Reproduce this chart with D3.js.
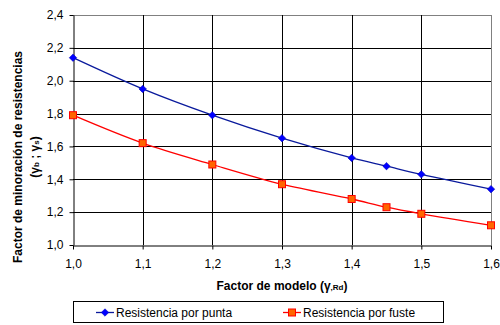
<!DOCTYPE html>
<html>
<head>
<meta charset="utf-8">
<script src="https://cdn.jsdelivr.net/npm/d3@7"></script>
<style>
  html, body { margin: 0; padding: 0; background: #fff; }
  svg { display: block; font-family: Arial, "Liberation Sans", sans-serif; }
</style>
</head>
<body>
<svg id="chart" width="500" height="325"></svg>
<script>
// Model factor (x) and the resulting resistance reduction factors
const modelFactor = [1.0, 1.1, 1.2, 1.3, 1.4, 1.45, 1.5, 1.6];
const puntaValues = [2.14, 1.95, 1.79, 1.65, 1.53, 1.48, 1.43, 1.34];
const fusteValues = [1.79, 1.62, 1.49, 1.37, 1.28, 1.23, 1.19, 1.12];
const xTicks = [1.0, 1.1, 1.2, 1.3, 1.4, 1.5, 1.6];
const yTicks = [1.0, 1.2, 1.4, 1.6, 1.8, 2.0, 2.2, 2.4];
const seriesNames = ["Resistencia por punta", "Resistencia por fuste"];

const svg = d3.select("#chart");
const plot = { left: 73, right: 491, top: 15, bottom: 245 };

const x = d3.scaleLinear().domain([1.0, 1.6]).range([plot.left, plot.right]);
const y = d3.scaleLinear().domain([1.0, 2.4]).range([plot.bottom, plot.top]);
const fmt = d => d3.format(".1f")(d).replace(".", ",");

// grid
const grid = svg.append("g");
grid.selectAll("line.h").data(yTicks.slice(1)).join("line")
  .attr("x1", plot.left).attr("x2", plot.right)
  .attr("y1", d => Math.round(y(d)) + 0.5).attr("y2", d => Math.round(y(d)) + 0.5)
  .attr("stroke", d => d === 2.4 ? "#808080" : "#000").attr("stroke-width", 1);
grid.selectAll("line.v").data(xTicks.slice(1)).join("line")
  .attr("y1", plot.top).attr("y2", plot.bottom)
  .attr("x1", d => Math.round(x(d)) + 0.5).attr("x2", d => Math.round(x(d)) + 0.5)
  .attr("stroke", d => d === 1.6 ? "#808080" : "#000").attr("stroke-width", 1);

// axes
const xAxis = svg.append("g")
  .attr("transform", `translate(0,${Math.round(y(1.0)) + 0.5})`)
  .call(d3.axisBottom(x).tickValues(xTicks).tickFormat(fmt).tickSize(4).tickSizeOuter(0));
const yAxis = svg.append("g")
  .attr("transform", `translate(${Math.round(x(1.0)) + 0.5},0)`)
  .call(d3.axisLeft(y).tickValues(yTicks).tickFormat(fmt).tickSize(4).tickSizeOuter(0));
[xAxis, yAxis].forEach(a => {
  a.select(".domain").attr("stroke", "#000");
  a.selectAll(".tick line").attr("stroke", "#000");
  a.selectAll(".tick text").attr("fill", "#000").style("font-size", "12px")
    .style("font-family", "Arial, 'Liberation Sans', sans-serif");
});
xAxis.selectAll(".tick text").attr("dy", "0").attr("y", 22);
yAxis.selectAll(".tick text").attr("x", -10);

// series
const line = d3.line().x(d => x(d[0])).y(d => y(d[1])).curve(d3.curveCatmullRom.alpha(0.5));
const punta = modelFactor.map((m, i) => [m, puntaValues[i]]);
const fuste = modelFactor.map((m, i) => [m, fusteValues[i]]);

svg.append("path").datum(punta).attr("d", line)
  .attr("fill", "none").attr("stroke", "#0a1a9c").attr("stroke-width", 1.3);
svg.append("path").datum(fuste).attr("d", line)
  .attr("fill", "none").attr("stroke", "#ff0000").attr("stroke-width", 1.3);

const diamond = d3.symbol().type(d3.symbolDiamond2).size(36);
svg.append("g").selectAll("path").data(punta).join("path")
  .attr("d", diamond)
  .attr("transform", d => `translate(${x(d[0])},${y(d[1])})`)
  .attr("fill", "#0000ff").attr("stroke", "#0000b0").attr("stroke-width", 0.5);
svg.append("g").selectAll("rect").data(fuste).join("rect")
  .attr("x", d => x(d[0]) - 3.5).attr("y", d => y(d[1]) - 3.5)
  .attr("width", 7).attr("height", 7)
  .attr("fill", "#ff6600").attr("stroke", "#ff0000").attr("stroke-width", 1);

// axis titles
const xTitle = svg.append("text")
  .attr("x", 282).attr("y", 290).attr("text-anchor", "middle")
  .style("font-size", "12px").style("font-weight", "bold");
xTitle.append("tspan").text("Factor de modelo (γ");
xTitle.append("tspan").text(",Rd").style("font-size", "8px");
xTitle.append("tspan").text(")");

const yTitle = svg.append("text")
  .attr("transform", "translate(22,157) rotate(-90)")
  .attr("text-anchor", "middle")
  .style("font-size", "12px").style("font-weight", "bold");
yTitle.append("tspan").attr("x", 0).attr("y", 0).text("Factor de minoración de resistencias");
const y2 = yTitle.append("tspan").attr("x", 0).attr("y", 17);
y2.append("tspan").text("(γ");
y2.append("tspan").text("b").style("font-size", "8px");
y2.append("tspan").text(" ; γ");
y2.append("tspan").text("s").style("font-size", "8px");
y2.append("tspan").text(")");

// legend
const legend = svg.append("g");
legend.append("rect").attr("x", 73.5).attr("y", 301.5).attr("width", 370).attr("height", 21)
  .attr("fill", "#fff").attr("stroke", "#000").attr("stroke-width", 1);
const items = [
  { name: seriesNames[0], x0: 96, color: "#0a1a9c", marker: "diamond" },
  { name: seriesNames[1], x0: 283, color: "#ff0000", marker: "square" }
];
items.forEach(it => {
  const g = legend.append("g");
  g.append("line").attr("x1", it.x0).attr("x2", it.x0 + 18).attr("y1", 312.5).attr("y2", 312.5)
    .attr("stroke", it.color).attr("stroke-width", 1.3);
  if (it.marker === "diamond") {
    g.append("path").attr("d", diamond).attr("transform", `translate(${it.x0 + 9},312.5)`)
      .attr("fill", "#0000ff").attr("stroke", "#0000b0").attr("stroke-width", 0.5);
  } else {
    g.append("rect").attr("x", it.x0 + 5.5).attr("y", 309).attr("width", 7).attr("height", 7)
      .attr("fill", "#ff6600").attr("stroke", "#ff0000");
  }
  g.append("text").attr("x", it.x0 + 20).attr("y", 317)
    .style("font-size", "12px").attr("fill", "#000").text(it.name);
});
</script>
</body>
</html>
